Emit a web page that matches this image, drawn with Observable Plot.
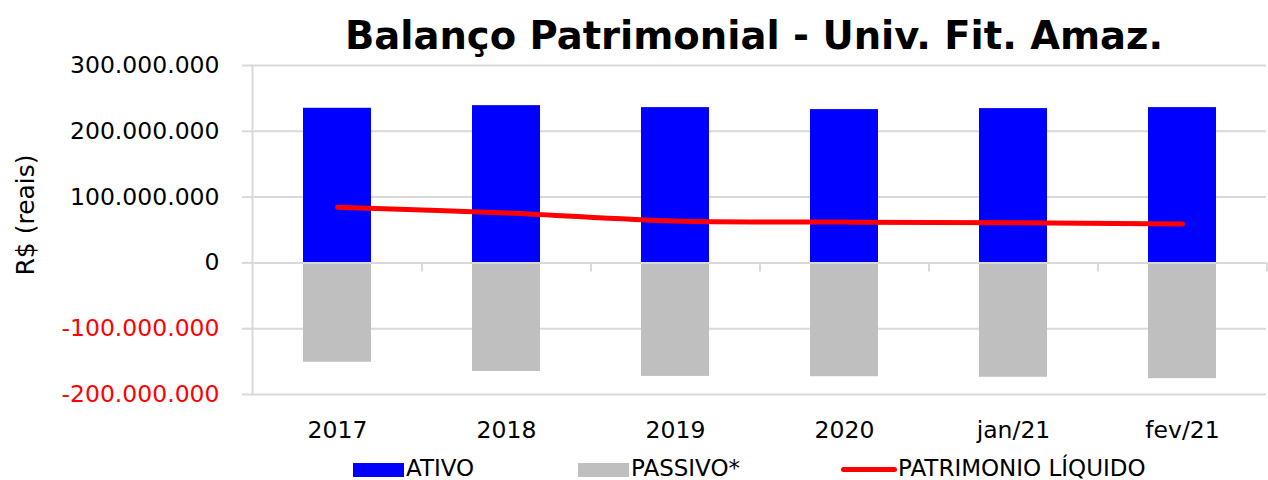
<!DOCTYPE html>
<html>
<head>
<meta charset="utf-8">
<script src="https://cdn.jsdelivr.net/npm/d3@7"></script>
<script src="https://cdn.jsdelivr.net/npm/@observablehq/plot@0.6"></script>
<style>
  html, body { margin: 0; padding: 0; background: #fff; }
  #wrap { position: relative; width: 1268px; height: 480px; font-family: "DejaVu Sans", sans-serif; overflow: hidden; }
  #title { position: absolute; z-index: 5; left: 254px; width: 1000px; top: 6px; text-align: center; font-weight: bold; font-size: 38.5px; line-height: 60px; color: #000; }
  #chart { position: absolute; left: 0; top: 50px; z-index: 1; }
  #ylabel { position: absolute; z-index: 5; left: 25px; top: 215px; transform: translate(-50%, -50%) rotate(-90deg); font-size: 25px; white-space: nowrap; color: #000; }
  .leg { position: absolute; z-index: 5; font-size: 23px; line-height: 26px; top: 455px; color: #000; }
  .sw { position: absolute; z-index: 5; top: 463px; height: 14px; }
</style>
</head>
<body>
<div id="wrap">
  <div id="chart"></div>
  <div id="title">Balanço Patrimonial - Univ. Fit. Amaz.</div>
  <div id="ylabel">R$ (reais)</div>
  <div id="legend"></div>
</div>
<script>
const categories = ["2017", "2018", "2019", "2020", "jan/21", "fev/21"];
const ativo = [235000000, 239000000, 236000000, 233000000, 234500000, 236000000];
const passivo = [-151000000, -165000000, -172500000, -173000000, -173800000, -176000000];
const patrimonio = [84500000, 76000000, 63500000, 62000000, 61000000, 59000000];
const yTicks = [300000000, 200000000, 100000000, 0, -100000000, -200000000];
const seriesNames = ["ATIVO", "PASSIVO*", "PATRIMONIO LÍQUIDO"];
const seriesColors = ["#0000FF", "#BFBFBF", "#FF0000"];

const rows = categories.map((c, i) => ({cat: c, ativo: ativo[i], passivo: passivo[i], pl: patrimonio[i]}));
const loc = d3.formatLocale({decimal: ",", thousands: ".", grouping: [3], currency: ["R$", ""], minus: "-"});
const fmt = loc.format(",d");

const W = 1268, H = 400, mL = 252, mR = 2, mT = 15, mB = 56;
const step = (W - mL - mR) / categories.length;
const grid = "#D9D9D9";

const chart = Plot.plot({
  width: W, height: H,
  marginLeft: mL, marginRight: mR, marginTop: mT, marginBottom: mB,
  style: {fontFamily: "DejaVu Sans, sans-serif", fontSize: "23px", color: "#000", background: "transparent"},
  x: {domain: categories, type: "band", paddingInner: 0.6, paddingOuter: 0.3, axis: null, label: null},
  y: {domain: [-200000000, 300000000], axis: null, label: null},
  marks: [
    Plot.gridY(yTicks, {stroke: grid, strokeOpacity: 1, strokeWidth: 2}),
    Plot.frame({anchor: "left", stroke: grid, strokeWidth: 2}),
    Plot.axisY(yTicks.filter(d => d >= 0), {tickSize: 10, stroke: grid, strokeWidth: 2, tickPadding: 23, tickFormat: fmt, fill: "#000", fontSize: 23.5, label: null}),
    Plot.axisY(yTicks.filter(d => d < 0), {tickSize: 10, stroke: grid, strokeWidth: 2, tickPadding: 23, tickFormat: fmt, fill: "#FF0000", fontSize: 23.5, label: null}),
    Plot.barY(rows, {x: "cat", y: "ativo", fill: seriesColors[0]}),
    Plot.barY(rows, {x: "cat", y: "passivo", fill: seriesColors[1]}),
    Plot.ruleY([0], {stroke: grid, strokeWidth: 2}),
    Plot.ruleX(categories, {x: d => d, y1: 0, y2: 0, insetBottom: -9, dx: step / 2, stroke: grid, strokeWidth: 2}),
    Plot.line(rows, {x: "cat", y: "pl", stroke: seriesColors[2], strokeWidth: 5, curve: "catmull-rom", strokeLinecap: "round"}),
    Plot.axisX(categories, {tickSize: 0, tickPadding: 27, fontSize: 23.5, fill: "#000", label: null})
  ]
});
document.getElementById("chart").appendChild(chart);

// legend
const legend = document.getElementById("legend");
const legItems = [
  {sx: 353, sw: 51, tx: 406, type: "rect"},
  {sx: 578, sw: 51, tx: 631, type: "rect"},
  {sx: 841, sw: 56, tx: 898, type: "line"}
];
legItems.forEach((it, i) => {
  const s = document.createElement("div");
  s.className = "sw";
  s.style.left = it.sx + "px";
  s.style.width = it.sw + "px";
  if (it.type === "rect") {
    s.style.background = seriesColors[i];
  } else {
    s.style.top = "467px";
    s.style.height = "5px";
    s.style.borderRadius = "3px";
    s.style.background = seriesColors[i];
  }
  legend.appendChild(s);
  const t = document.createElement("div");
  t.className = "leg";
  t.style.left = it.tx + "px";
  t.textContent = seriesNames[i];
  legend.appendChild(t);
});
</script>
</body>
</html>
